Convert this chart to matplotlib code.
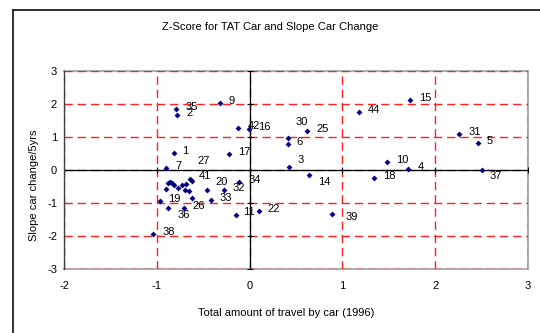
import matplotlib
matplotlib.use("Agg")
import matplotlib.pyplot as plt
from matplotlib.lines import Line2D

plt.rcParams['font.family'] = ['Liberation Sans', 'DejaVu Sans']
plt.rcParams['axes.unicode_minus'] = False

# z-scores
ids = ['1', '2', '3', '4', '5', '6', '7', '9', '10', '11', '14', '15', '16', '17',
       '18', '19', '20', '22', '25', '26', '27', '30', '31', '32', '33', '34', '35',
       '36', '37', '38', '39', '41', '42', '44',
       '', '', '', '', '', '', '', '', '', '', '']
tat_car = [-0.82, -0.78, 0.42, 1.71, 2.46, 0.41, -0.90, -0.32, 1.48, -0.15, 0.64, 1.73, -0.01, -0.22,
           1.34, -0.97, -0.46, 0.10, 0.62, -0.71, -0.64, 0.41, 2.26, -0.28, -0.42, -0.11, -0.79,
           -0.88, 2.50, -1.04, 0.89, -0.62, -0.12, 1.18,
           -0.88, -0.86, -0.84, -0.90, -0.81, -0.77, -0.73, -0.70, -0.68, -0.65, -0.62]
slope_car = [0.52, 1.66, 0.09, 0.02, 0.82, 0.79, 0.05, 2.03, 0.22, -1.37, -0.16, 2.12, 1.22, 0.48,
             -0.26, -0.95, -0.62, -1.25, 1.16, -1.17, -0.29, 0.96, 1.09, -0.62, -0.92, -0.37, 1.84,
             -1.17, -0.02, -1.96, -1.35, -0.35, 1.25, 1.76,
             -0.39, -0.37, -0.41, -0.59, -0.46, -0.56, -0.46, -0.62, -0.43, -0.66, -0.87]

xticks = [-2, -1, 0, 1, 2, 3]
yticks = [-3, -2, -1, 0, 1, 2, 3]

# label placement (pixels from the point), default (9, 2)
label_offsets = {'3': (9, 7), '27': (7, 18), '41': (7, 5), '20': (9, 8), '36': (10, -7),
                 '30': (8, 16), '14': (9, -7), '39': (13, -3), '37': (8, -6), '11': (7, 3)}

fig = plt.figure(figsize=(5.4, 3.33), dpi=100)
ax = fig.add_axes([64 / 540, 1 - 268.7 / 333, 464 / 540, 198 / 333])

ax.set_xlim(-2, 3)
ax.set_ylim(-3, 3)

# red dashed grid
for v in xticks:
    ax.axvline(v, color='#ff2020', lw=1.0, dashes=(6, 3.5), zorder=1)
for v in yticks:
    ax.axhline(v, color='#ff2020', lw=1.0, dashes=(6, 3.5), zorder=1)

# zero axes with cross ticks
ax.axhline(0, color='black', lw=0.9, zorder=2)
ax.axvline(0, color='black', lw=0.9, zorder=2)
ax.plot(xticks, [0] * len(xticks), ls='none', marker='|', ms=5, mew=0.8, color='black', zorder=2)
ax.plot([0] * len(yticks), yticks, ls='none', marker='_', ms=5, mew=0.8, color='black', zorder=2)

ax.scatter(tat_car, slope_car, marker='D', s=9, color='#000080', zorder=3, linewidths=0)

for lab, x, y in zip(ids, tat_car, slope_car):
    if not lab:
        continue
    dx, dy = label_offsets.get(lab, (9, 2))
    ax.annotate(lab, (x, y), xytext=(dx, dy), textcoords='offset pixels',
                ha='left', va='center', fontsize=8, color='black', zorder=4)

for side in ['top', 'right', 'bottom']:
    ax.spines[side].set_color('#b0b0b0')
    ax.spines[side].set_linewidth(1.5)
    ax.spines[side].set_zorder(0)
ax.spines['left'].set_color('#404040')
ax.spines['left'].set_linewidth(1.0)

ax.set_xticks(xticks)
ax.set_yticks(yticks)
ax.tick_params(axis='both', length=0, labelsize=8)
ax.tick_params(axis='x', pad=9)
ax.tick_params(axis='y', pad=5)

fig.text(270 / 540, 1 - 27 / 333, 'Z-Score for TAT Car and Slope Car Change',
         ha='center', va='center', fontsize=8)
fig.text(286 / 540, 1 - 313 / 333, 'Total amount of travel by car (1996)',
         ha='center', va='center', fontsize=8)
fig.text(34 / 540, 1 - 185 / 333, 'Slope car change/5yrs',
         ha='center', va='center', rotation=90, fontsize=8)

# outer chart frame (cropped on right and bottom)
fig.add_artist(Line2D([13 / 540, 13 / 540], [0, 1 - 10 / 333], color='#202020', lw=1.3))
fig.add_artist(Line2D([13 / 540, 1], [1 - 10 / 333, 1 - 10 / 333], color='#202020', lw=1.3))

fig.savefig('out.png', dpi=100)
